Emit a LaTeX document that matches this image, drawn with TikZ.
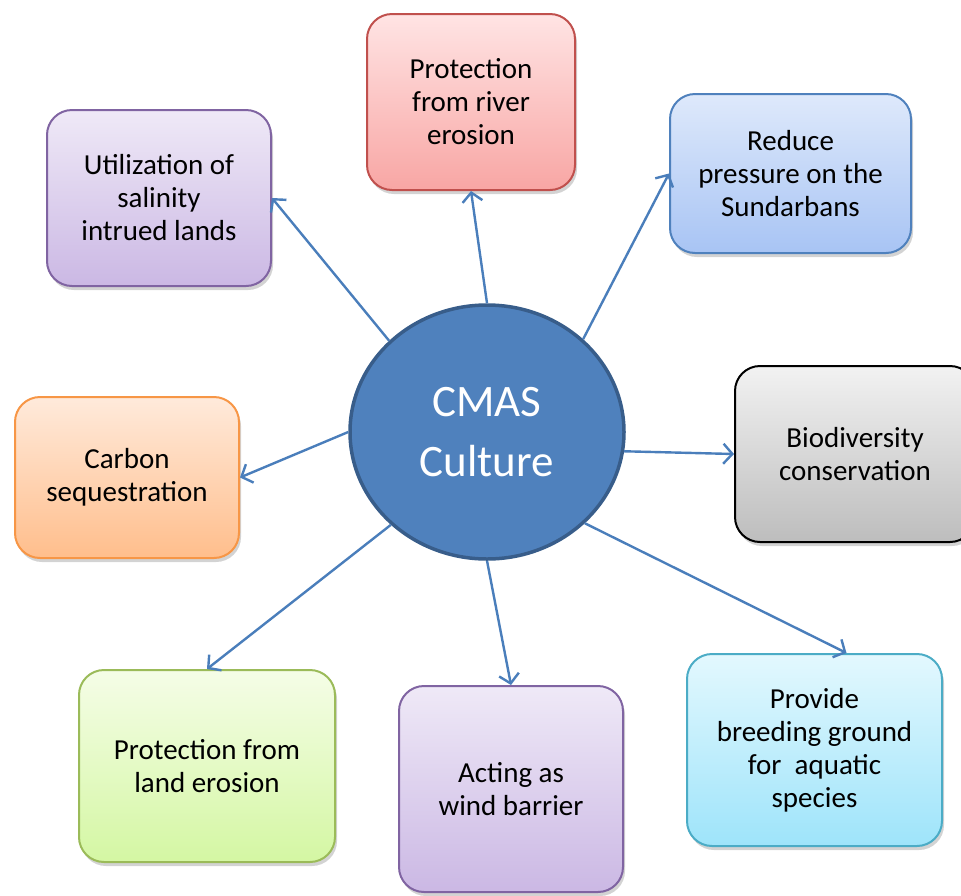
\documentclass[tikz,border=0pt]{standalone}
\usepackage{fontspec}
\setmainfont{Carlito}
\usetikzlibrary{shapes.geometric,arrows.meta,shadows}
\definecolor{arrowblue}{HTML}{4A7EBB}
\definecolor{circfill}{HTML}{4F81BD}
\definecolor{circborder}{HTML}{385D8A}
\definecolor{purB}{HTML}{8064A2}\definecolor{purT}{HTML}{EFE9F7}\definecolor{purD}{HTML}{CBB8E4}
\definecolor{redB}{HTML}{C0504D}\definecolor{redT}{HTML}{FFE4E4}\definecolor{redD}{HTML}{F8A6A4}
\definecolor{bluB}{HTML}{4F81BD}\definecolor{bluT}{HTML}{DEE9FB}\definecolor{bluD}{HTML}{A8C4F4}
\definecolor{graB}{HTML}{000000}\definecolor{graT}{HTML}{F2F2F2}\definecolor{graD}{HTML}{BDBDBD}
\definecolor{cyaB}{HTML}{4BACC6}\definecolor{cyaT}{HTML}{E3F8FE}\definecolor{cyaD}{HTML}{9EE4FA}
\definecolor{greB}{HTML}{9BBB59}\definecolor{greT}{HTML}{F5FDE7}\definecolor{greD}{HTML}{D4F7A3}
\definecolor{oraB}{HTML}{F79646}\definecolor{oraT}{HTML}{FFEADB}\definecolor{oraD}{HTML}{FFBE8C}
\begin{document}
\begin{tikzpicture}[x=1pt,y=-1pt,
  box/.style={rounded corners=25pt, line width=2pt, align=center,
    font=\fontsize{29}{33}\selectfont, inner sep=0pt,
    drop shadow={shadow xshift=2pt, shadow yshift=-4pt, opacity=0.35}},
  pbox/.style={box, draw=#1B, top color=#1T, bottom color=#1D},
  conn/.style={draw=arrowblue, line width=2.4pt, -{Straight Barb[length=9pt,width=20pt]}}]
\useasboundingbox (0,0) rectangle (961,895);
\clip (0,0) rectangle (961,895);
\node[pbox=pur, minimum width=224pt, minimum height=176pt] (util) at (159,198) {Utilization of\\salinity\\intrued lands};
\node[pbox=red, minimum width=208pt, minimum height=176pt] (river) at (471,102) {Protection\\from river\\erosion};
\node[pbox=blu, minimum width=241pt, minimum height=159pt] (reduce) at (790.5,173.5) {Reduce\\pressure on the\\Sundarbans};
\node[pbox=gra, minimum width=240pt, minimum height=176pt] (bio) at (855,454) {Biodiversity\\conservation};
\node[pbox=cya, minimum width=255pt, minimum height=192pt] (breed) at (814.5,750) {Provide\\breeding ground\\for \ aquatic\\species};
\node[pbox=pur, minimum width=224pt, minimum height=206pt] (wind) at (511,789) {Acting as\\wind barrier};
\node[pbox=gre, minimum width=256pt, minimum height=192pt] (land) at (207,766) {Protection from\\land erosion};
\node[pbox=ora, minimum width=224pt, minimum height=161pt] (carbon) at (127,477.5) {Carbon\\sequestration};
\node[ellipse, minimum width=274pt, minimum height=254pt, inner sep=0pt, fill=circfill, draw=circborder, line width=3.5pt, text=white, align=center, font=\fontsize{45}{60}\selectfont] (c) at (487,432) {CMAS\\Culture};
\draw[conn] (c.137) -- (util.east);
\draw[conn] (c.90) -- (river.south);
\draw[conn] (c.44) -- (reduce.west);
\draw[conn] (c.-8) -- (bio.west);
\draw[conn] (c.-43) -- ([xshift=32pt]breed.north);
\draw[conn] (c.-90) -- (wind.north);
\draw[conn] (c.-136) -- (land.north);
\draw[conn] (c.180) -- (carbon.east);
\end{tikzpicture}
\end{document}
